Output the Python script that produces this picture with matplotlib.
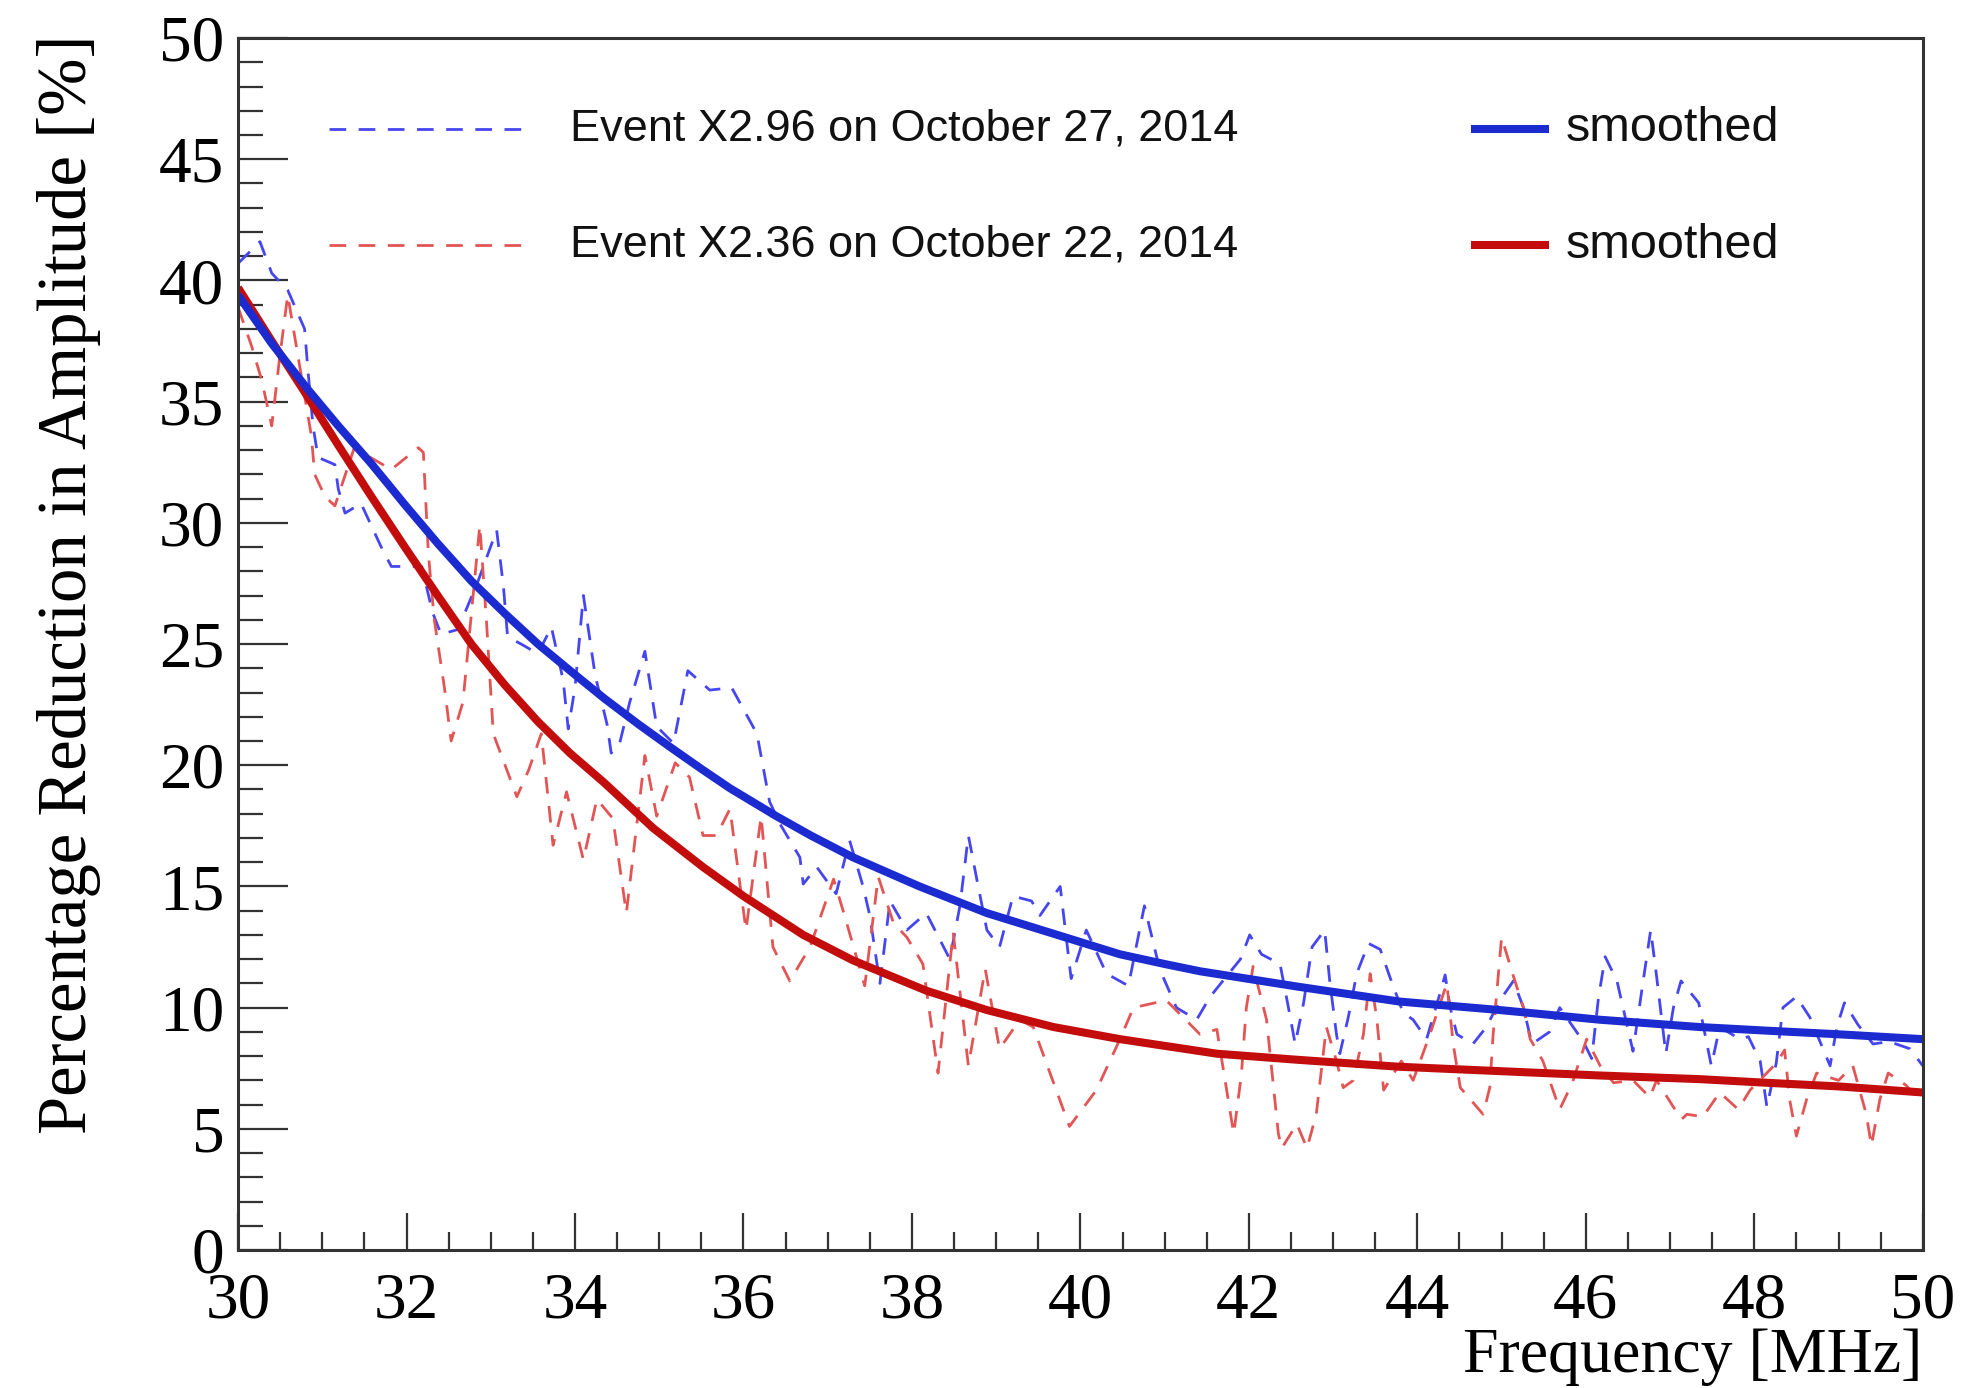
import matplotlib
matplotlib.use("Agg")
import matplotlib.pyplot as plt
from matplotlib.lines import Line2D
from matplotlib.ticker import MultipleLocator

# dashed raw curves (frequency in MHz, reduction in %)
blue_f = [30.00, 30.26, 30.40, 30.59, 30.79, 30.83, 30.89, 30.95, 31.15, 31.19, 31.27, 31.46,
          31.70, 31.82, 32.18, 32.31, 32.41, 32.61, 32.85, 33.07, 33.15, 33.20, 33.36, 33.56,
          33.72, 33.86, 33.92, 34.00, 34.10, 34.24, 34.38, 34.43, 34.53, 34.65, 34.83, 34.97,
          35.17, 35.34, 35.60, 35.86, 36.16, 36.31, 36.43, 36.67, 36.71, 36.87, 37.10, 37.26,
          37.42, 37.50, 37.62, 37.74, 37.94, 38.17, 38.45, 38.57, 38.67, 38.77, 38.89, 39.04,
          39.20, 39.42, 39.52, 39.76, 39.89, 40.07, 40.31, 40.57, 40.76, 40.94, 41.14, 41.38,
          41.54, 41.90, 42.01, 42.15, 42.37, 42.47, 42.55, 42.65, 42.75, 42.90, 42.96, 43.04,
          43.08, 43.18, 43.28, 43.42, 43.56, 43.67, 43.83, 43.95, 44.11, 44.27, 44.33, 44.39,
          44.47, 44.66, 44.82, 44.98, 45.14, 45.26, 45.36, 45.57, 45.69, 45.97, 46.07, 46.15,
          46.23, 46.37, 46.56, 46.66, 46.77, 46.84, 46.95, 47.04, 47.13, 47.34, 47.49, 47.59,
          47.83, 47.93, 48.07, 48.15, 48.26, 48.34, 48.50, 48.66, 48.90, 48.98, 49.07, 49.23,
          49.41, 49.60, 49.85, 50.00]
blue_v = [40.7, 41.6, 40.3, 39.6, 38.0, 36.3, 34.0, 32.7, 32.4, 31.4, 30.4, 30.8,
          29.0, 28.2, 28.2, 26.3, 25.4, 25.6, 27.6, 29.7, 27.4, 25.3, 25.0, 24.6,
          25.7, 23.5, 21.5, 23.2, 27.0, 23.7, 21.7, 20.5, 20.9, 22.6, 24.7, 21.6,
          20.9, 23.9, 23.1, 23.2, 21.3, 18.5, 17.6, 16.2, 15.1, 15.8, 14.7, 16.9,
          15.0, 13.8, 11.0, 14.4, 13.2, 13.9, 12.0, 14.2, 17.1, 15.3, 13.2, 12.5,
          14.6, 14.4, 13.8, 15.0, 11.2, 13.2, 11.4, 10.9, 14.2, 11.6, 10.0, 9.5,
          10.45, 12.0, 13.0, 12.2, 11.8, 10.0, 8.5, 10.2, 12.5, 13.2, 11.1, 8.9,
          8.1, 9.6, 11.4, 12.65, 12.4, 11.3, 9.8, 9.5, 8.7, 10.6, 11.35, 10.0,
          8.9, 8.5, 9.2, 10.3, 11.1, 10.0, 8.5, 9.0, 10.0, 8.6, 7.9, 10.4,
          12.1, 11.1, 8.2, 10.6, 13.2, 11.3, 8.1, 10.0, 11.1, 10.2, 7.6, 9.2,
          8.7, 8.8, 7.8, 5.9, 7.7, 10.0, 10.45, 9.6, 7.6, 9.2, 10.2, 9.3,
          8.5, 8.6, 8.3, 7.6]

red_f = [30.00, 30.16, 30.28, 30.40, 30.49, 30.59, 30.87, 30.91, 31.03, 31.15, 31.38, 31.62,
         31.82, 32.14, 32.20, 32.26, 32.33, 32.45, 32.53, 32.67, 32.87, 32.95, 33.03, 33.31,
         33.45, 33.60, 33.74, 33.90, 34.10, 34.26, 34.45, 34.61, 34.83, 34.97, 35.19, 35.36,
         35.52, 35.68, 35.84, 36.03, 36.21, 36.35, 36.55, 36.79, 37.07, 37.20, 37.44, 37.60,
         37.78, 37.94, 38.13, 38.31, 38.49, 38.67, 38.87, 39.04, 39.28, 39.44, 39.87, 40.19,
         40.47, 40.63, 41.02, 41.42, 41.62, 41.82, 41.91, 41.97, 42.05, 42.21, 42.35, 42.39,
         42.57, 42.69, 42.80, 42.92, 43.04, 43.12, 43.24, 43.36, 43.44, 43.52, 43.60, 43.81,
         43.95, 44.15, 44.35, 44.43, 44.51, 44.78, 44.86, 44.90, 45.00, 45.14, 45.26, 45.34,
         45.49, 45.69, 45.84, 46.01, 46.17, 46.33, 46.56, 46.76, 46.84, 47.04, 47.14, 47.20,
         47.39, 47.59, 47.81, 47.95, 48.26, 48.36, 48.42, 48.50, 48.62, 48.74, 49.00, 49.17,
         49.33, 49.39, 49.49, 49.59, 49.80, 49.96]
red_v = [38.9, 37.3, 35.9, 34.0, 36.7, 39.4, 33.6, 32.0, 31.1, 30.7, 33.1, 32.6,
         32.2, 33.1, 32.9, 28.7, 26.0, 23.2, 21.0, 22.6, 29.9, 25.9, 21.3, 18.7,
         19.8, 21.3, 16.7, 18.9, 16.1, 18.6, 17.8, 13.9, 20.4, 17.9, 20.1, 19.5,
         17.1, 17.1, 18.2, 13.2, 17.9, 12.5, 11.1, 12.5, 15.3, 13.8, 10.9, 15.4,
         13.5, 12.9, 11.8, 7.3, 13.1, 7.6, 11.6, 8.3, 9.5, 9.2, 5.1, 6.6,
         8.7, 10.0, 10.3, 8.9, 9.1, 4.8, 7.2, 10.0, 11.7, 9.5, 4.8, 4.2,
         5.2, 4.2, 5.6, 9.2, 7.8, 6.7, 7.0, 8.9, 11.4, 9.5, 6.6, 7.8,
         7.0, 8.9, 11.0, 8.4, 6.7, 5.6, 6.7, 8.9, 12.9, 11.3, 10.0, 8.7,
         7.8, 5.8, 6.9, 8.7, 7.6, 6.9, 7.0, 6.3, 7.0, 5.9, 5.4, 5.6,
         5.5, 6.5, 5.8, 6.6, 7.7, 8.25, 6.2, 4.7, 6.2, 7.3, 7.0, 7.6,
         5.6, 4.3, 6.2, 7.3, 6.8, 6.2]

# smoothed curves
blue_s_f = [30.0, 30.4, 30.83, 31.19, 31.58, 31.98, 32.37, 32.77, 33.17, 33.56, 33.96, 34.35,
            34.75, 35.13, 35.5, 35.84, 36.39, 36.8, 37.3, 38.09, 38.89, 39.68, 40.47, 41.0,
            41.42, 42.61, 43.79, 44.98, 46.17, 47.35, 48.15, 49.0, 50.0]
blue_s_v = [39.4, 37.4, 35.5, 34.0, 32.45, 30.75, 29.15, 27.6, 26.25, 25.0, 23.85, 22.75,
            21.7, 20.75, 19.85, 19.05, 17.9, 17.1, 16.2, 15.0, 13.9, 13.05, 12.2, 11.8,
            11.5, 10.85, 10.25, 9.9, 9.5, 9.2, 9.05, 8.9, 8.7]
red_s_f = [30.0, 30.4, 30.79, 31.19, 31.58, 31.98, 32.37, 32.77, 33.17, 33.56, 33.94, 34.34,
           34.93, 35.52, 36.0, 36.71, 37.3, 38.17, 38.89, 39.68, 40.47, 41.62, 42.61, 43.79,
           44.98, 46.17, 47.35, 48.15, 49.0, 50.0]
red_s_v = [39.7, 37.5, 35.4, 33.2, 31.1, 29.0, 27.0, 25.0, 23.3, 21.8, 20.5, 19.3,
           17.4, 15.8, 14.6, 13.0, 11.95, 10.7, 9.9, 9.2, 8.7, 8.1, 7.84, 7.56,
           7.38, 7.2, 7.05, 6.9, 6.75, 6.5]

labels = ["Event X2.96 on October 27, 2014", "Event X2.36 on October 22, 2014"]

serif = ["Liberation Serif", "DejaVu Serif"]
sans = ["Liberation Sans", "DejaVu Sans"]

blue_dash = "#4646f0"
red_dash = "#e35555"
blue_line = "#1c2bd0"
red_line = "#c30d0d"
dash = (6, 4.5)
dlw = 2.0
slw = 5.8

fig = plt.figure(figsize=(19.64, 13.88), dpi=100)
ax = fig.add_axes([0.1212, 0.0994, 0.8578, 0.8732])

ax.plot(blue_f, blue_v, color=blue_dash, lw=dlw, dashes=dash)
ax.plot(red_f, red_v, color=red_dash, lw=dlw, dashes=dash)
ax.plot(red_s_f, red_s_v, color=red_line, lw=slw, solid_capstyle="butt")
ax.plot(blue_s_f, blue_s_v, color=blue_line, lw=slw, solid_capstyle="butt")

ax.set_xlim(30, 50)
ax.set_ylim(0, 50)
ax.xaxis.set_major_locator(MultipleLocator(2))
ax.xaxis.set_minor_locator(MultipleLocator(0.5))
ax.yaxis.set_major_locator(MultipleLocator(5))
ax.yaxis.set_minor_locator(MultipleLocator(1))

ax.tick_params(axis="y", which="major", direction="in", length=36, width=1.6,
               labelsize=47, pad=10, color="#333333")
ax.tick_params(axis="y", which="minor", direction="in", length=18, width=1.6, color="#333333")
ax.tick_params(axis="x", which="major", direction="in", length=27, width=1.6,
               labelsize=47, pad=16, color="#333333")
ax.tick_params(axis="x", which="minor", direction="in", length=13, width=1.6, color="#333333")
for lab in ax.get_xticklabels() + ax.get_yticklabels():
    lab.set_family(serif)
for sp in ax.spines.values():
    sp.set_linewidth(2.2)
    sp.set_color("#333333")

fig.text(0.035, 0.579, "Percentage Reduction in Amplitude [%]", rotation=90,
         ha="center", va="center", fontsize=49.5, family=serif)
fig.text(0.979, 0.022, "Frequency [MHz]", ha="right", va="center",
         fontsize=46, family=serif)

# legend drawn by hand, ROOT style
rows = [0.925, 0.829]
for y, lab, dc, lc in zip(rows, labels, [blue_dash, red_dash], [blue_line, red_line]):
    ax.add_line(Line2D([0.054, 0.171], [y, y], transform=ax.transAxes,
                       color=dc, lw=dlw, dashes=dash))
    ax.text(0.197, y, lab, transform=ax.transAxes, ha="left", va="center",
            fontsize=32.5, family=sans, color="#111111")
    ax.add_line(Line2D([0.732, 0.778], [y, y], transform=ax.transAxes,
                       color=lc, lw=slw, solid_capstyle="butt"))
    ax.text(0.788, y, "smoothed", transform=ax.transAxes, ha="left", va="center",
            fontsize=35, family=sans, color="#111111")

fig.savefig("out.png", dpi=100)
